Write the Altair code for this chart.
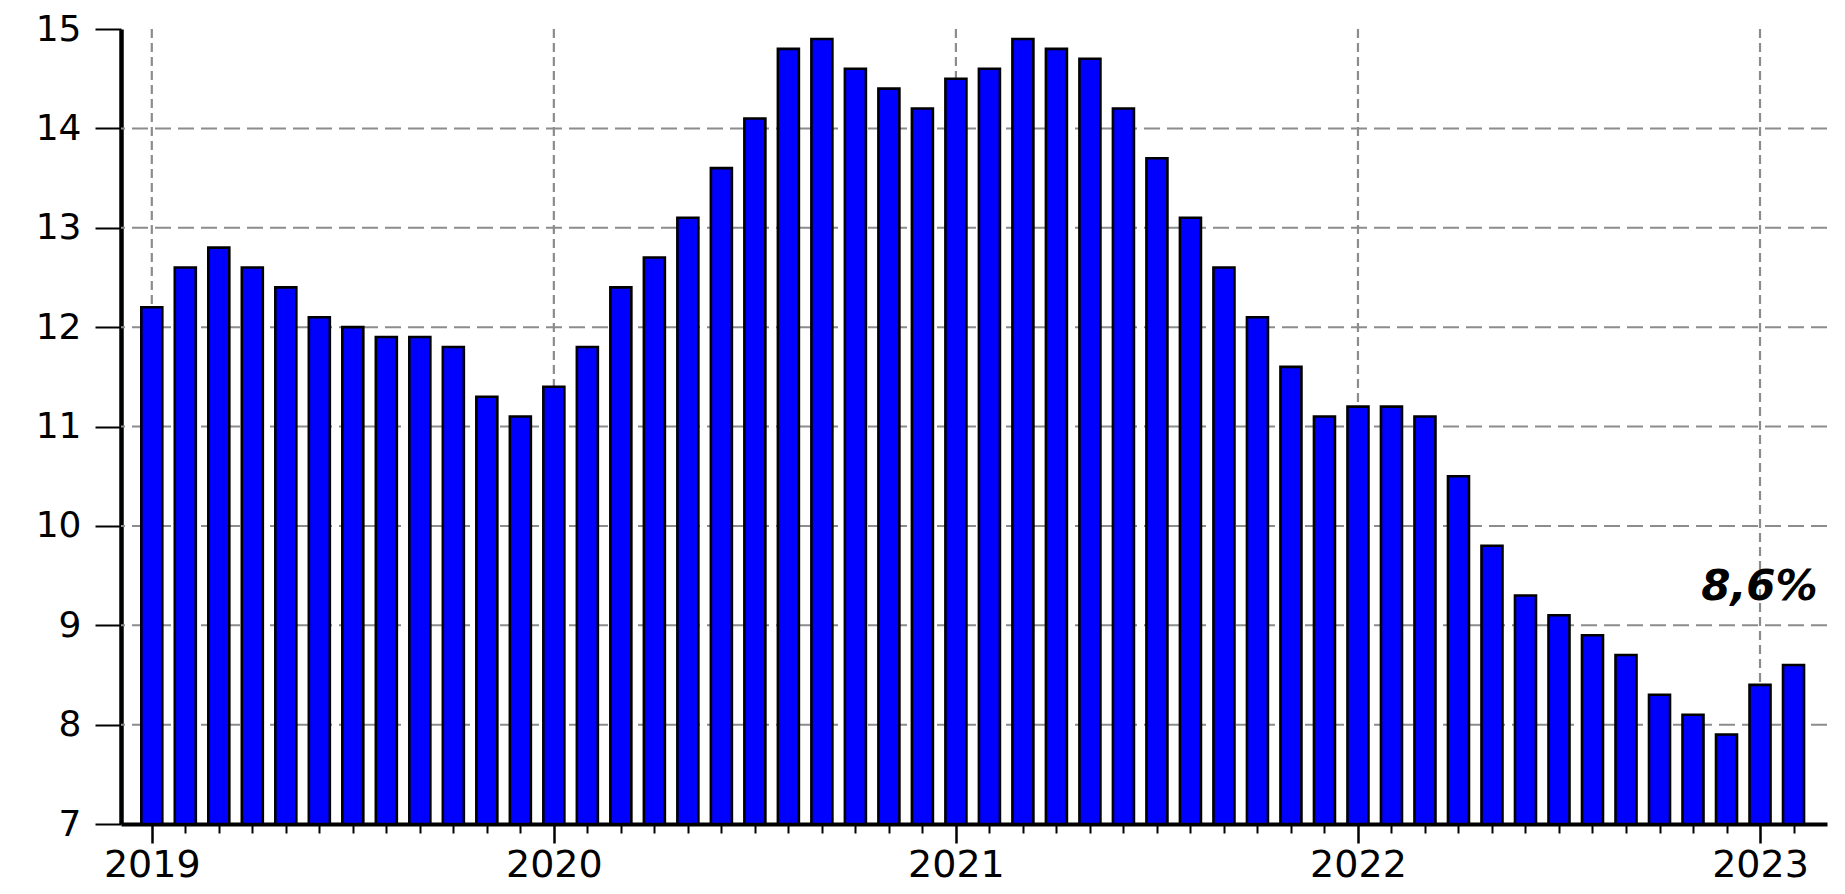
import altair as alt
import pandas as pd

# ---- data (monthly values, Jan 2019 .. Feb 2023) ----
values_2019 = [12.2, 12.6, 12.8, 12.6, 12.4, 12.1, 12.0, 11.9, 11.9, 11.8, 11.3, 11.1]
values_2020 = [11.4, 11.8, 12.4, 12.7, 13.1, 13.6, 14.1, 14.8, 14.9, 14.6, 14.4, 14.2]
values_2021 = [14.5, 14.6, 14.9, 14.8, 14.7, 14.2, 13.7, 13.1, 12.6, 12.1, 11.6, 11.1]
values_2022 = [11.2, 11.2, 11.1, 10.5, 9.8, 9.3, 9.1, 8.9, 8.7, 8.3, 8.1, 7.9]
values_2023 = [8.4, 8.6]
years = [2019, 2020, 2021, 2022, 2023]
y_ticks = [7, 8, 9, 10, 11, 12, 13, 14, 15]
grid_levels = [8, 9, 10, 11, 12, 13, 14]
annotation_text = "8,6%"
annotation_value = 9.25

values = values_2019 + values_2020 + values_2021 + values_2022 + values_2023
n = len(values)
bars = pd.DataFrame({"idx": list(range(n)), "value": values})
jan = pd.DataFrame({"idx": [12 * i for i in range(len(years))],
                    "year": [str(y) for y in years],
                    "top": [max(y_ticks)] * len(years),
                    "bot": [min(y_ticks)] * len(years)})
hgrid = pd.DataFrame({"level": grid_levels})
ann = pd.DataFrame({"idx": [n - 1 + 0.72], "value": [annotation_value], "t": [annotation_text]})

W, H = 1706, 795
FONT = "DejaVu Sans"

xscale = alt.Scale(domain=[-0.77, n - 1 + 0.85], nice=False, zero=False)
yscale = alt.Scale(domain=[min(y_ticks), max(y_ticks)], nice=False, zero=False)

x_axis = alt.Axis(orient="bottom", values=list(range(n)), title=None, grid=False,
                  tickSize={"condition": {"test": "datum.value % 12 === 0", "value": 19}, "value": 9},
                  tickWidth={"condition": {"test": "datum.value % 12 === 0", "value": 2.5}, "value": 2},
                  tickColor="black",
                  domain=True, domainColor="black", domainWidth=4,
                  labelExpr="datum.value % 12 === 0 ? '' + (2019 + datum.value / 12) : ''",
                  labelFont=FONT, labelFontSize=38, labelColor="black", labelPadding=3)
y_axis = alt.Axis(values=y_ticks, format="d", title=None, grid=False, tickSize=26, tickWidth=2,
                  tickColor="black", domain=True, domainColor="black", domainWidth=4.5,
                  labelFont=FONT, labelFontSize=36, labelColor="black", labelPadding=14)

hlines = alt.Chart(hgrid).mark_rule(color="#8c8c8c", strokeWidth=2, strokeDash=[16, 7]).encode(
    y=alt.Y("level:Q", scale=yscale, axis=y_axis),
)

vlines = alt.Chart(jan).mark_rule(color="#8c8c8c", strokeWidth=2.2, strokeDash=[9, 5]).encode(
    x=alt.X("idx:Q", scale=xscale, axis=x_axis),
    y=alt.Y("top:Q", scale=yscale, axis=y_axis),
    y2="bot:Q",
)

bar_layer = alt.Chart(bars).mark_bar(size=21, color="#0000ff", stroke="black", strokeWidth=2.6).encode(
    x=alt.X("idx:Q", scale=xscale, axis=x_axis),
    y=alt.Y("value:Q", scale=yscale, axis=y_axis),
    y2=alt.datum(min(y_ticks)),
)

text_layer = alt.Chart(ann).mark_text(font=FONT, fontSize=42, fontWeight="bold", fontStyle="italic",
                                      align="right", baseline="alphabetic", color="black").encode(
    x=alt.X("idx:Q", scale=xscale, axis=x_axis),
    y=alt.Y("value:Q", scale=yscale, axis=y_axis),
    text="t:N",
)

chart = alt.layer(hlines, vlines, bar_layer, text_layer).properties(
    width=W, height=H,
    autosize=alt.AutoSizeParams(type="none"),
    padding={"left": 113, "top": 21, "right": 10, "bottom": 66},
).configure(background="white").configure_view(stroke="transparent", strokeWidth=0)

chart.save("out.html", embed_options={"renderer": "svg", "actions": False})
